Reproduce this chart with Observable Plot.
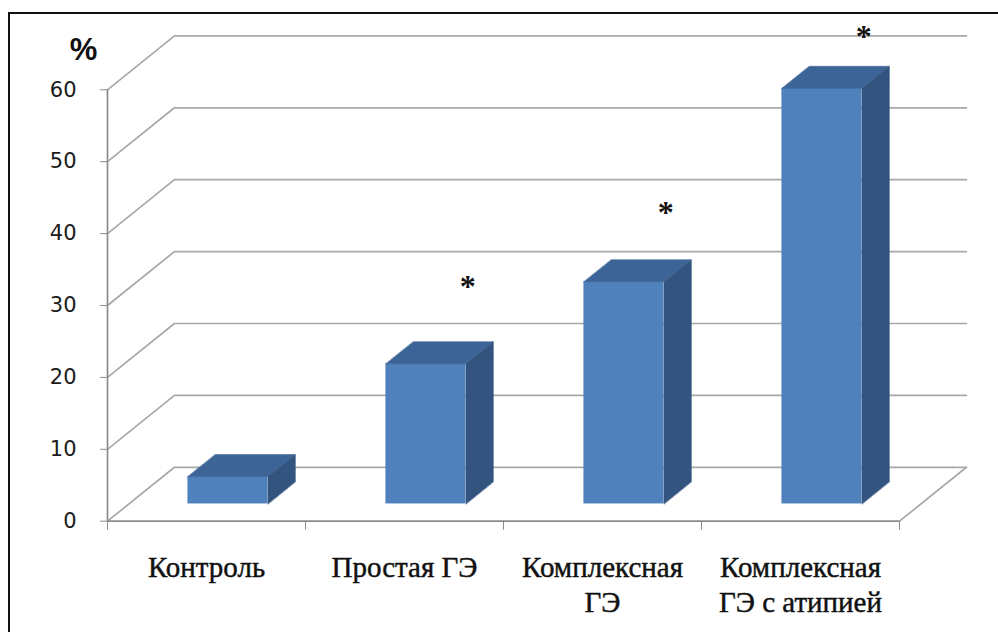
<!DOCTYPE html>
<html>
<head>
<meta charset="utf-8">
<script src="https://cdn.jsdelivr.net/npm/d3@7"></script>
<script src="https://cdn.jsdelivr.net/npm/@observablehq/plot@0.6"></script>
<style>
  body { margin: 0; background: #fff; }
  #wrap { position: relative; width: 998px; height: 632px; overflow: hidden; }
  #border { position: absolute; left: 8px; top: 12px; width: 1100px; height: 700px; border: 2px solid #111; box-sizing: border-box; }
  #chart { position: absolute; left: 0; top: 0; }
</style>
</head>
<body>
<div id="wrap"><div id="border"></div><div id="chart"></div></div>
<script>
// Доля пациенток по группам, %
const categories = ["Контроль", "Простая ГЭ", "Комплексная\nГЭ", "Комплексная\nГЭ с атипией"];
const percents = [3.8, 19.5, 30.9, 57.8];
// Отметки значимости различий с контролем и уровень, на котором они стоят
const significance = ["", "*", "*", "*"];
const significanceLevels = [null, 33.2, 43.5, 68];
const yTicks = [0, 10, 20, 30, 40, 50, 60];

// Косоугольная проекция: глубина f (0 — передний край пола, 1 — задняя стенка)
const DX = 0.338;  // сдвиг по оси категорий на всю глубину
const DY = 7.5;    // сдвиг по оси процентов на всю глубину
const at = (x, v, f) => ({x: x + f * DX, y: v + f * DY});

// Столбики: полуширина и глубина передней / задней грани
const HW = 0.202, F0 = 0.32, F1 = 0.73;
const bars = percents.map((v, i) => ({
  i, v, name: categories[i], mark: significance[i], level: significanceLevels[i],
  xl: i + 0.5 - HW, xr: i + 0.5 + HW
}));

const topFaces = bars.flatMap(b => [
  at(b.xl, b.v, F0), at(b.xr, b.v, F0), at(b.xr, b.v, F1), at(b.xl, b.v, F1)
].map(p => ({...p, bar: b.i})));

const sideFaces = bars.flatMap(b => [
  at(b.xr, 0, F0), at(b.xr, b.v, F0), at(b.xr, b.v, F1), at(b.xr, 0, F1)
].map(p => ({...p, bar: b.i})));

// Линии сетки: диагональ по боковой стенке и горизонталь по задней
const gridLines = yTicks.flatMap(t =>
  [at(0, t, 0), at(0, t, 1), at(4, t, 1)].map(p => ({...p, t}))
);
const floorEdge = [at(4, 0, 0), at(4, 0, 1)];

const gridColor = "#a8a8a8";
const axisColor = "#8c8c8c";

const chart = Plot.plot({
  width: 998,
  height: 632,
  marginLeft: 107,
  marginRight: 99,
  marginTop: 89.3,
  marginBottom: 111.3,
  x: {domain: [0, 4], label: null},
  y: {domain: [0, 60], label: null},
  style: {fontFamily: "DejaVu Sans", fontSize: "21px", background: "transparent", overflow: "visible"},
  marks: [
    Plot.line(gridLines, {x: "x", y: "y", z: "t", stroke: gridColor, strokeWidth: 1.7}),
    Plot.line(floorEdge, {x: "x", y: "y", stroke: gridColor, strokeWidth: 1.7}),
    Plot.ruleY([0], {stroke: axisColor, strokeWidth: 1.7}),
    Plot.ruleX([0], {stroke: axisColor, strokeWidth: 1.7}),
    Plot.axisY(yTicks, {tickSize: 7, tickPadding: 24, stroke: axisColor, fill: "#1b1b1b", fontSize: 21, fontFamily: "DejaVu Sans", label: null}),
    Plot.axisX([0, 1, 2, 3, 4], {tickSize: 9, tickFormat: () => "", stroke: axisColor, label: null}),
    // Столбики: передняя, верхняя и боковая грани
    Plot.rect(bars, {
      x1: d => d.xl + F0 * DX, x2: d => d.xr + F0 * DX,
      y1: () => F0 * DY, y2: d => d.v + F0 * DY,
      fill: "#4f81bd"
    }),
    Plot.line(topFaces, {x: "x", y: "y", z: "bar", curve: "linear-closed", fill: "#3c6496", stroke: "#3c6496", strokeWidth: 0.5}),
    Plot.line(sideFaces, {x: "x", y: "y", z: "bar", curve: "linear-closed", fill: "#32547f", stroke: "#32547f", strokeWidth: 0.5}),
    // Подписи категорий
    Plot.text(bars, {
      x: d => d.i + 0.5, y: () => 0, text: "name",
      lineAnchor: "top", dy: 31, lineHeight: 1.2,
      fontFamily: "Liberation Serif", fontSize: 29, fill: "#111",
      stroke: "#111", strokeWidth: 0.45
    }),
    // Отметки значимости
    Plot.text(bars.filter(d => d.mark), {
      x: d => d.i + 0.82, y: "level", text: "mark",
      fontFamily: "Liberation Serif", fontWeight: "bold", fontSize: 32, dy: 4, fill: "#111"
    }),
    // Единица измерения оси
    Plot.text(["%"], {
      frameAnchor: "top-left", dx: -24, dy: -40,
      textAnchor: "middle", lineAnchor: "middle",
      fontFamily: "Liberation Sans", fontWeight: "bold", fontSize: 31, fill: "#111"
    })
  ]
});

document.getElementById("chart").appendChild(chart);
</script>
</body>
</html>
